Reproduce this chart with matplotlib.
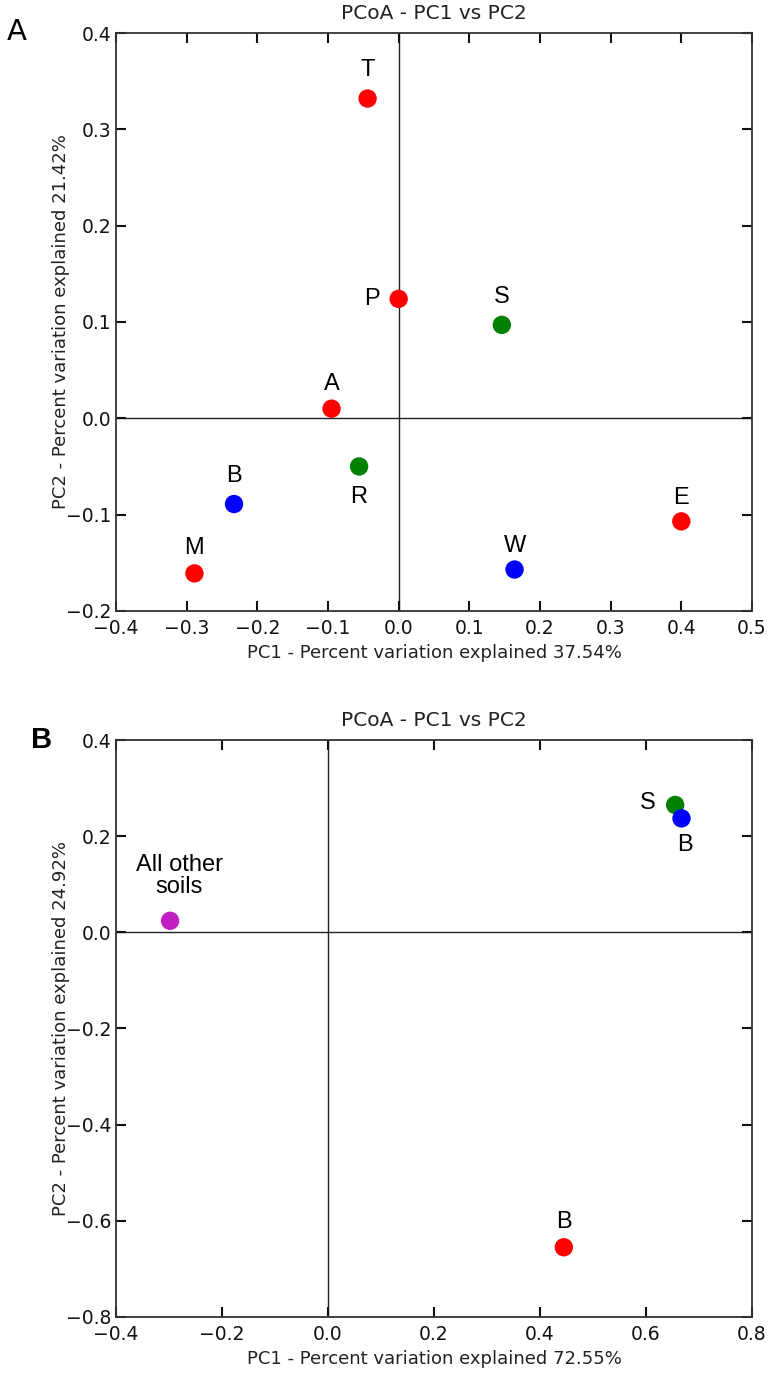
import matplotlib.pyplot as plt

# panel A
a_labels = ["T", "P", "S", "A", "R", "B", "M", "W", "E"]
a_x = [-0.044, 0.0, 0.146, -0.095, -0.056, -0.233, -0.289, 0.164, 0.400]
a_y = [0.332, 0.124, 0.097, 0.010, -0.050, -0.089, -0.161, -0.157, -0.107]
a_colors = ["red", "red", "green", "red", "green", "blue", "red", "blue", "red"]
# label offsets in pixels (dx, dy)
a_offsets = [(0, 29), (-27, 0), (0, 28), (0, 25), (0, -31), (0, 28), (0, 25), (0, 24), (0, 23)]

# panel B
b_labels = ["All other\nsoils", "S", "B", "B"]
b_x = [-0.298, 0.655, 0.667, 0.445]
b_y = [0.024, 0.265, 0.237, -0.655]
b_colors = ["#c21fc2", "green", "blue", "red"]
b_offsets = [(9, 45), (-27, 2), (3, -27), (0, 25)]

plt.rcParams["font.family"] = "DejaVu Sans"
fig = plt.figure(figsize=(7.75, 13.76), dpi=100)
axA = fig.add_axes([0.1497, 0.556, 0.8206, 0.420])
axB = fig.add_axes([0.1497, 0.0429, 0.8206, 0.4193])


def draw(ax, xs, ys, cols, labs, offs, xlim, ylim, xticks, yticks, xlabel, ylabel):
    ax.axhline(0, color="#222222", lw=1.0, zorder=1)
    ax.axvline(0, color="#222222", lw=1.0, zorder=1)
    ax.scatter(xs, ys, c=cols, s=175, zorder=3, edgecolors="none")
    for x, y, lab, (dx, dy) in zip(xs, ys, labs, offs):
        ax.annotate(lab, (x, y), xytext=(dx * 0.72, dy * 0.72), textcoords="offset points",
                    ha="center", va="center", fontsize=17, family="Liberation Sans",
                    linespacing=1.0)
    ax.set_xlim(*xlim)
    ax.set_ylim(*ylim)
    ax.set_xticks(xticks)
    ax.set_yticks(yticks)
    ax.tick_params(direction="in", length=7, width=1.5, labelsize=13.5, colors="#111111",
                   top=True, right=True, pad=3)
    ax.tick_params(axis="x", pad=6)
    for sp in ax.spines.values():
        sp.set_color("#333333")
        sp.set_linewidth(1.3)
    ax.set_xlabel(xlabel, fontsize=13, color="#222222", labelpad=4)
    ax.set_ylabel(ylabel, fontsize=13, color="#222222")
    ax.yaxis.set_label_coords(-0.073, 0.5)
    ax.set_title("PCoA - PC1 vs PC2", fontsize=14.5, color="#222222", pad=10)


draw(axA, a_x, a_y, a_colors, a_labels, a_offsets, (-0.4, 0.5), (-0.2, 0.4),
     [-0.4, -0.3, -0.2, -0.1, 0.0, 0.1, 0.2, 0.3, 0.4, 0.5],
     [-0.2, -0.1, 0.0, 0.1, 0.2, 0.3, 0.4],
     "PC1 - Percent variation explained 37.54%",
     "PC2 - Percent variation explained 21.42%")
draw(axB, b_x, b_y, b_colors, b_labels, b_offsets, (-0.4, 0.8), (-0.8, 0.4),
     [-0.4, -0.2, 0.0, 0.2, 0.4, 0.6, 0.8],
     [-0.8, -0.6, -0.4, -0.2, 0.0, 0.2, 0.4],
     "PC1 - Percent variation explained 72.55%",
     "PC2 - Percent variation explained 24.92%")

fig.text(0.0085, 0.977, "A", fontsize=21, va="center", ha="left")
fig.text(0.040, 0.4625, "B", fontsize=21, fontweight="bold", va="center", ha="left",
         family="Liberation Sans")

fig.savefig("out.png", dpi=100)
